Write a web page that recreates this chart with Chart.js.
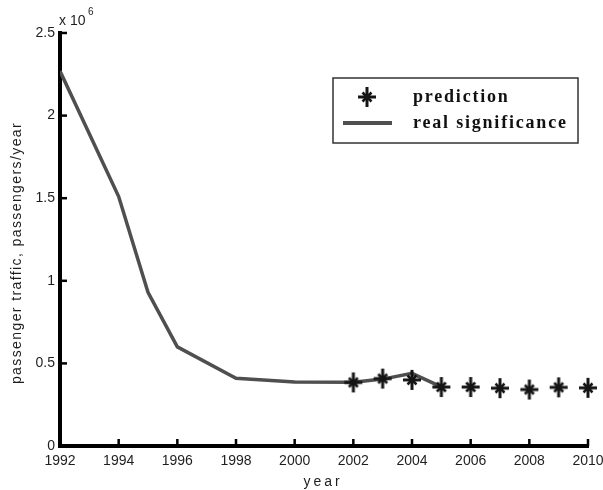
<!DOCTYPE html>
<html>
<head>
<meta charset="utf-8">
<script src="https://cdn.jsdelivr.net/npm/chart.js@4/dist/chart.umd.min.js"></script>
<style>
  html, body { margin: 0; padding: 0; background: #fff; }
  #wrap { width: 603px; height: 490px; }
</style>
</head>
<body>
<div id="wrap"><canvas id="chart"></canvas></div>
<script>
// real data (line) and predicted values (stars), passengers/year
var realYears = [1992, 1994, 1995, 1996, 1998, 2000, 2002, 2003, 2004, 2005];
var realValues = [2270000, 1510000, 930000, 600000, 410000, 388000, 386000, 405000, 440000, 358000];
var predYears = [2002, 2003, 2004, 2005, 2006, 2007, 2008, 2009, 2010];
var predValues = [385000, 408000, 400000, 357000, 357000, 350000, 342000, 355000, 352000];
var xTicks = [1992, 1994, 1996, 1998, 2000, 2002, 2004, 2006, 2008, 2010];
var yTicks = [0, 500000, 1000000, 1500000, 2000000, 2500000];

var textColor = "#1e1e1e";
var lineColor = "#4f4f4f";

function pairs(xs, ys) {
  return xs.map(function (x, i) { return { x: x, y: ys[i] }; });
}

// matlab style '*' marker: long plus, shorter diagonals
function makeStar() {
  var c = document.createElement("canvas");
  c.width = 22;
  c.height = 22;
  var g = c.getContext("2d");
  g.strokeStyle = "#151515";
  g.lineCap = "butt";
  g.lineWidth = 3;
  g.beginPath();
  g.moveTo(11, 1); g.lineTo(11, 21);
  g.moveTo(2, 11); g.lineTo(20, 11);
  g.stroke();
  g.lineWidth = 2.6;
  g.beginPath();
  g.moveTo(6.5, 6.5); g.lineTo(15.5, 15.5);
  g.moveTo(15.5, 6.5); g.lineTo(6.5, 15.5);
  g.stroke();
  return c;
}
var starImg = makeStar();

// inward ticks, axis titles, exponent and legend box
var extras = {
  id: "extras",
  afterDraw: function (chart) {
    var ctx = chart.ctx;
    var xs = chart.scales.x;
    var ys = chart.scales.y;
    var area = chart.chartArea;
    ctx.save();
    ctx.strokeStyle = "#000";
    ctx.lineWidth = 2.5;
    xTicks.forEach(function (v) {
      var px = xs.getPixelForValue(v);
      ctx.beginPath();
      ctx.moveTo(px, area.bottom);
      ctx.lineTo(px, area.bottom - 7);
      ctx.stroke();
    });
    yTicks.forEach(function (v) {
      var py = ys.getPixelForValue(v);
      ctx.beginPath();
      ctx.moveTo(area.left, py);
      ctx.lineTo(area.left + 7, py);
      ctx.stroke();
    });

    ctx.fillStyle = textColor;
    ctx.font = "14px 'Liberation Sans', Arial, sans-serif";
    ctx.textBaseline = "alphabetic";
    ctx.textAlign = "left";
    ctx.fillText("x 10", 59, 25);
    ctx.font = "10px 'Liberation Sans', Arial, sans-serif";
    ctx.fillText("6", 88, 15);

    // axis titles
    ctx.font = "14px 'Liberation Sans', Arial, sans-serif";
    ctx.textAlign = "center";
    ctx.textBaseline = "middle";
    ctx.letterSpacing = "3px";
    ctx.fillText("year", 323, 482);
    ctx.letterSpacing = "1.4px";
    ctx.translate(17, 253);
    ctx.rotate(-Math.PI / 2);
    ctx.fillText("passenger traffic, passengers/year", 0, 0);
    ctx.restore();

    // legend
    ctx.save();
    ctx.fillStyle = "#fff";
    ctx.fillRect(333, 78, 245, 65);
    ctx.strokeStyle = "#333";
    ctx.lineWidth = 1.5;
    ctx.strokeRect(333, 78, 245, 65);
    ctx.drawImage(starImg, 367 - 11, 97 - 11);
    ctx.strokeStyle = lineColor;
    ctx.lineWidth = 4;
    ctx.beginPath();
    ctx.moveTo(343, 123);
    ctx.lineTo(392, 123);
    ctx.stroke();
    ctx.fillStyle = "#111";
    ctx.font = "bold 18px 'Liberation Serif', 'Times New Roman', serif";
    ctx.letterSpacing = "1.8px";
    ctx.textAlign = "left";
    ctx.textBaseline = "middle";
    ctx.fillText("prediction", 413, 97);
    ctx.fillText("real significance", 413, 123);
    ctx.restore();
  }
};

new Chart(document.getElementById("chart"), {
  type: "scatter",
  data: {
    datasets: [
      {
        label: "real significance",
        data: pairs(realYears, realValues),
        showLine: true,
        borderColor: lineColor,
        borderWidth: 3.5,
        pointRadius: 0,
        tension: 0,
        order: 2
      },
      {
        label: "prediction",
        data: pairs(predYears, predValues),
        showLine: false,
        pointStyle: starImg,
        pointRadius: 9,
        clip: false,
        order: 1
      }
    ]
  },
  options: {
    responsive: true,
    maintainAspectRatio: false,
    animation: false,
    layout: { padding: { top: 33, right: 15, left: 0, bottom: 0 } },
    plugins: {
      legend: { display: false },
      tooltip: { enabled: false }
    },
    scales: {
      x: {
        type: "linear",
        min: 1992,
        max: 2010,
        afterFit: function (s) { s.height = 44; s.paddingLeft = 0; s.paddingRight = 0; },
        afterBuildTicks: function (s) { s.ticks = xTicks.map(function (v) { return { value: v }; }); },
        grid: { display: false, drawTicks: false },
        border: { display: true, color: "#000", width: 4 },
        ticks: {
          autoSkip: false,
          maxRotation: 0,
          padding: 7,
          color: textColor,
          font: { family: "'Liberation Sans', Arial, sans-serif", size: 14 },
          callback: function (v) { return String(v); }
        }
      },
      y: {
        min: 0,
        max: 2500000,
        afterFit: function (s) { s.width = 60; s.paddingTop = 0; s.paddingBottom = 0; },
        afterBuildTicks: function (s) { s.ticks = yTicks.map(function (v) { return { value: v }; }); },
        grid: { display: false, drawTicks: false },
        border: { display: true, color: "#000", width: 4 },
        ticks: {
          autoSkip: false,
          padding: 5,
          color: textColor,
          font: { family: "'Liberation Sans', Arial, sans-serif", size: 14 },
          callback: function (v) { return String(v / 1000000); }
        }
      }
    }
  },
  plugins: [extras]
});
</script>
</body>
</html>
